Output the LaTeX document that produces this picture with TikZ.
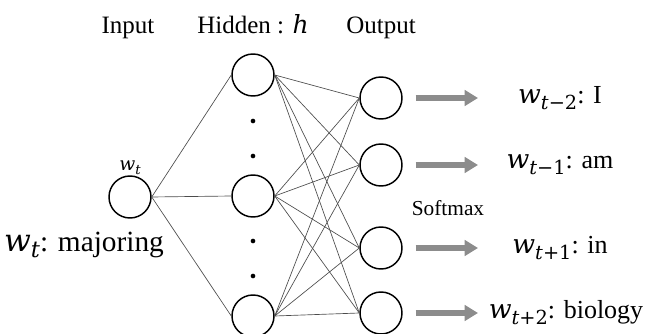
\documentclass[tikz,border=0pt]{standalone}
\usepackage{fontspec}
\setmainfont{Liberation Serif}
\newfontfamily\wfont{DejaVu Serif}
\usetikzlibrary{positioning,arrows.meta}
\tikzstyle{neuron} = [circle, draw, line width=1.1pt, minimum size=31.5pt,
                      inner sep=0pt]
\tikzstyle{dotn}   = [circle, fill, minimum size=3.5pt, inner sep=0pt]
\tikzstyle{wire}   = [draw, line width=0.5pt, black!70]
\tikzstyle{garrow} = [draw, line width=4.5pt, black!45,
                      -{Triangle[length=10pt,width=11.5pt]}, shorten <=9.75pt]
\tikzstyle{title}  = [font=\fontsize{18.75}{22}\selectfont, text height=13pt,
                      text depth=4pt]
\tikzstyle{word}   = [font=\fontsize{19.5}{23}\selectfont]
% w with a subscript: size of w, size of subscript, subscript
\newcommand{\wsub}[3]{{\fontsize{#1}{#1}\selectfont\wfont\itshape w}%
  {\fontsize{#2}{#2}\selectfont\wfont\raisebox{-0.3em}{#3}}}

\begin{document}
\begin{tikzpicture}[x=0.75pt, y=-0.75pt]
        \useasboundingbox (0,0) rectangle (652,334);
        % hidden layer
        \node[neuron] (h1) at (253,75) {};
        \node[dotn, below of=h1, node distance=34.5pt] (d1) {};
        \node[dotn, below of=d1, node distance=26.25pt] (d2) {};
        \node[neuron, below of=h1, node distance=90.75pt] (h2) {};
        \node[dotn, below of=h2, node distance=33.75pt] (d3) {};
        \node[dotn, below of=d3, node distance=26.25pt] (d4) {};
        \node[neuron, below of=h2, node distance=90pt] (h3) {};
        % input
        \node[neuron, left of=h2, node distance=92.25pt, yshift=-0.75pt,
              label={[inner sep=0.5pt]above:\wsub{14}{10}{\itshape t}}] (in) {};
        \node[word, below of=in, xshift=-34.5pt, node distance=36pt,
              font=\fontsize{22}{26}\selectfont] (inw) {\wsub{23.5}{17}{\itshape t}: majoring};
        % output layer
        \node[neuron] (o1) at (381,98) {};
        \node[neuron, below of=o1, node distance=50.25pt] (o2) {};
        \node[neuron, below of=o2, node distance=62.25pt] (o3) {};
        \node[neuron, below of=o3, node distance=48.75pt] (o4) {};
        % titles
        \node[title, above of=in, xshift=-1.5pt, node distance=126.75pt] (tin) {Input};
        \node[title, above of=h1, node distance=35.25pt] (thid) {Hidden : {\wfont\itshape h}};
        \node[title, above of=o1, node distance=52.5pt] (tout) {Output};
        \node[below of=o2, xshift=50.25pt, node distance=32.25pt,
              font=\fontsize{16}{19}\selectfont] (soft) {Softmax};
        % context words
        \node[word, right of=o1, node distance=134.25pt] (l1) {\wsub{20}{14.5}{\textit{t}−2}: I};
        \node[word, right of=o2, node distance=134.25pt] (l2) {\wsub{20}{14.5}{\textit{t}−1}: am};
        \node[word, right of=o3, node distance=134.25pt] (l3) {\wsub{20}{14.5}{\textit{t}+1}: in};
        \node[word, right of=o4, node distance=138.75pt] (l4) {\wsub{20}{14.5}{\textit{t}+2}: biology};
        \coordinate[right of=o1, node distance=72.75pt] (t1);
        \coordinate[right of=o2, node distance=72.75pt] (t2);
        \coordinate[right of=o3, node distance=72.75pt] (t3);
        \coordinate[right of=o4, node distance=72.75pt] (t4);

        \path[wire] (in.east) -- (h1.west);
        \path[wire] (in.east) -- (h2.west);
        \path[wire] (in.east) -- (h3.west);

        \path[wire] (h1.east) -- (o1.west);
        \path[wire] (h1.east) -- (o2.west);
        \path[wire] (h1.east) -- (o3.west);
        \path[wire] (h1.east) -- (o4.west);
        \path[wire] (h2.east) -- (o1.west);
        \path[wire] (h2.east) -- (o2.west);
        \path[wire] (h2.east) -- (o3.west);
        \path[wire] (h2.east) -- (o4.west);
        \path[wire] (h3.east) -- (o1.west);
        \path[wire] (h3.east) -- (o2.west);
        \path[wire] (h3.east) -- (o3.west);
        \path[wire] (h3.east) -- (o4.west);

        \path[garrow] (o1.east) -- (t1);
        \path[garrow] (o2.east) -- (t2);
        \path[garrow] (o3.east) -- (t3);
        \path[garrow] (o4.east) -- (t4);
    \end{tikzpicture}
\end{document}
